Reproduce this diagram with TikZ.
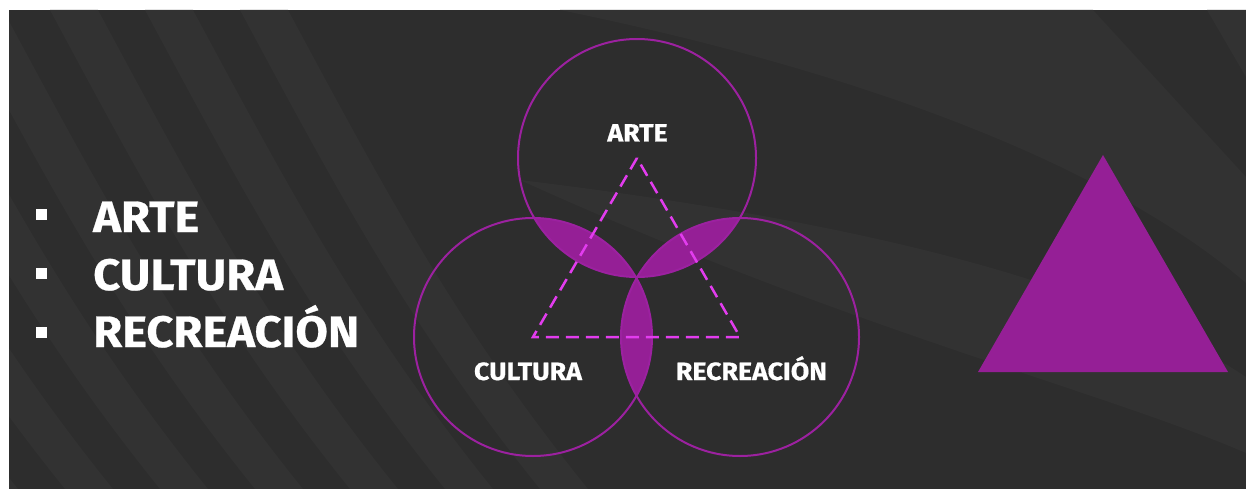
\documentclass[tikz,border=0pt]{standalone}
\usepackage{fontspec}
\setmainfont{Fira Sans}
\newfontfamily\blockfont[FakeStretch=1.07,FakeBold=0.6]{Fira Sans}
\definecolor{night}{HTML}{2D2D2D}
\definecolor{smoke}{HTML}{323232}
\definecolor{plum}{HTML}{951F96}
\definecolor{ring}{HTML}{9C21A0}
\definecolor{neon}{HTML}{E23CEE}
\tikzset{
  listitem/.style={font=\blockfont\fontsize{44}{48}\selectfont\bfseries, text=white, anchor=base west, inner sep=0pt},
  dot/.style={fill=white, minimum size=11pt, inner sep=0pt},
  setlabel/.style={font=\blockfont\fontsize{25}{28}\selectfont\bfseries, text=white, anchor=base, inner sep=0pt},
  setring/.style={ring, line width=2pt},
}

\begin{document}
\begin{tikzpicture}[x=1pt,y=-1pt]
        \useasboundingbox (0,0) rectangle (1246,489);
        \fill[night] (9,10) rectangle (1246,489);
        % background bands
        \begin{scope}
          \clip (9,10) rectangle (1246,489);
          \foreach \s in {-330,-235,-140,-45,50,145,240} {
            \fill[smoke] (\s,10) -- (\s+48,10) .. controls (\s+150,200) and (\s+220,330) .. (\s+348,489)
              -- (\s+300,489) .. controls (\s+172,330) and (\s+102,200) .. (\s,10) -- cycle;
          }
          \fill[smoke] (560,10) -- (1093,10) -- (1246,177) -- (1246,283)
            .. controls (1150,200) and (950,90) .. (560,10) -- cycle;
          \fill[smoke] (1207,10) -- (1246,10) -- (1246,77) -- cycle;
          \fill[smoke] (520,180) .. controls (850,220) and (1100,280) .. (1246,377)
            -- (1246,453) .. controls (1100,390) and (850,330) .. (520,180) -- cycle;
        \end{scope}

        % bullet list
        \node[dot] (b1) at (41,214) {};
        \node[dot] (b2) at (41,273) {};
        \node[dot] (b3) at (41,332) {};
        \node[listitem] (l1) at (93,232) {ARTE};
        \node[listitem] (l2) at (93,290) {CULTURA};
        \node[listitem] (l3) at (93,347) {RECREACIÓN};

        % venn
        \coordinate (arte) at (637,158);
        \coordinate (cultura) at (533,337);
        \coordinate (recreacion) at (740,337);
        \foreach \a/\b in {arte/cultura,arte/recreacion,cultura/recreacion} {
          \begin{scope}
            \clip (\a) circle[radius=119];
            \fill[plum] (\b) circle[radius=119];
          \end{scope}
        }
        \foreach \c in {arte,cultura,recreacion}
          \draw[setring] (\c) circle[radius=119];
        \draw[neon, line width=2.5pt, dash pattern=on 13pt off 7pt]
          (arte) -- (cultura) -- (recreacion) -- cycle;
        \node[setlabel] (tarte) at (637.5,141.5) {ARTE};
        \node[setlabel] (tcultura) at (528,380) {CULTURA};
        \node[setlabel] (trecreacion) at (751.5,380) {RECREACIÓN};

        % solid triangle
        \fill[plum] (1103,155) -- (978,372) -- (1228,372) -- cycle;
      \end{tikzpicture}
\end{document}
